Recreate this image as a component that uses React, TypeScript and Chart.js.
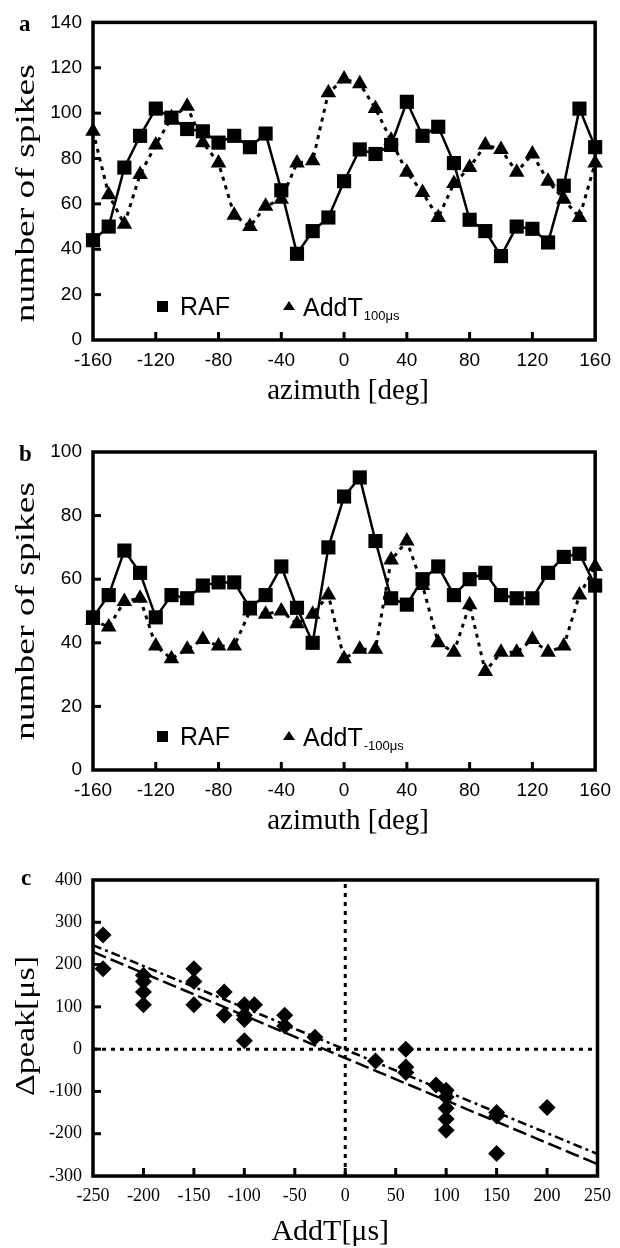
import React, { useEffect, useRef } from "react";
import { Chart, registerables } from "chart.js";

Chart.register(...registerables);

// ---------- data ----------
const azimuth = [-160, -150, -140, -130, -120, -110, -100, -90, -80, -70, -60, -50, -40, -30, -20, -10, 0, 10, 20, 30, 40, 50, 60, 70, 80, 90, 100, 110, 120, 130, 140, 150, 160];

const rafA = [44, 50, 76, 90, 102, 98, 93, 92, 87, 90, 85, 91, 66, 38, 48, 54, 70, 84, 82, 86, 105, 90, 94, 78, 53, 48, 37, 50, 49, 43, 68, 102, 85];
const addA = [92, 64, 51, 73, 86, 98, 103, 87, 78, 55, 50, 59, 62, 78, 79, 109, 115, 113, 102, 88, 74, 65, 54, 69, 76, 86, 84, 74, 82, 70, 62, 54, 78];

const rafB = [48, 55, 69, 62, 48, 55, 54, 58, 59, 59, 51, 55, 64, 51, 40, 70, 86, 92, 72, 54, 52, 60, 64, 55, 60, 62, 55, 54, 54, 62, 67, 68, 58];
const addB = [47, 45, 53, 54, 39, 35, 38, 41, 39, 39, 50, 49, 50, 46, 49, 55, 35, 38, 38, 66, 72, 58, 40, 37, 52, 31, 37, 37, 41, 37, 39, 55, 64];

const addT = [-240, -240, -200, -200, -200, -200, -150, -150, -150, -120, -120, -100, -100, -100, -100, -90, -60, -60, -30, 30, 60, 60, 60, 90, 100, 100, 100, 100, 100, 150, 150, 150, 200];
const dPeak = [270, 190, 175, 160, 135, 105, 190, 160, 105, 135, 80, 105, 80, 70, 20, 105, 80, 55, 28, -28, 0, -42, -55, -85, -97, -113, -140, -165, -192, -150, -158, -247, -138];

const fitX = [-250, 250];
const fitDashDot = [246, -248];
const fitDashed = [230, -272];

const zeroLineX = [-250, 250];
const zeroLineY = [-300, 400];

const azTicks = [-160, -120, -80, -40, 0, 40, 80, 120, 160];
const spikeTicksA = [0, 20, 40, 60, 80, 100, 120, 140];
const spikeTicksB = [0, 20, 40, 60, 80, 100];
const addTTicks = [-250, -200, -150, -100, -50, 0, 50, 100, 150, 200, 250];
const peakTicks = [-300, -200, -100, 0, 100, 200, 300, 400];

const legendRaf = "RAF";
const legendAdd = "AddT";
const subA = "100μs";
const subB = "-100μs";

// ---------- helpers ----------
const SANS = "'Liberation Sans', Arial, sans-serif";
const SERIF = "'Liberation Serif', 'Times New Roman', serif";

const pts = (xs: number[], ys: number[]) => xs.map((x, i) => ({ x, y: ys[i] }));

const fixedTicks = (arr: number[]) => (scale: any) => {
  scale.ticks = arr.map((v) => ({ value: v }));
};

function drawVertical(ctx: CanvasRenderingContext2D, text: string, cx: number, cy: number, size: number, targetLen: number) {
  ctx.save();
  ctx.font = `${size}px ${SERIF}`;
  const w = ctx.measureText(text).width;
  ctx.translate(cx, cy);
  ctx.rotate(-Math.PI / 2);
  ctx.scale(targetLen / w, 1);
  ctx.textAlign = "center";
  ctx.textBaseline = "middle";
  ctx.fillStyle = "#000";
  ctx.fillText(text, 0, 0);
  ctx.restore();
}

function frameAndTicks(chart: any, tickLen: number) {
  const { ctx, chartArea } = chart;
  const { left, right, top, bottom } = chartArea;
  const x = chart.scales.x;
  const y = chart.scales.y;
  ctx.save();
  ctx.strokeStyle = "#000";
  ctx.lineWidth = 3.5;
  ctx.strokeRect(left, top, right - left, bottom - top);
  ctx.lineWidth = 3;
  for (const t of y.ticks) {
    if (t.value === y.min || t.value === y.max) continue;
    const py = y.getPixelForValue(t.value);
    ctx.beginPath();
    ctx.moveTo(left, py);
    ctx.lineTo(left + tickLen, py);
    ctx.stroke();
  }
  for (const t of x.ticks) {
    if (t.value === x.min || t.value === x.max) continue;
    const px = x.getPixelForValue(t.value);
    ctx.beginPath();
    ctx.moveTo(px, bottom);
    ctx.lineTo(px, bottom - tickLen);
    ctx.stroke();
  }
  ctx.restore();
}

function spikesPanel(letter: string, sub: string, yTitleLen: number, yTitleDy: number) {
  return {
    id: "spikesDecor",
    beforeDatasetsDraw(chart: any) {
      frameAndTicks(chart, 8);
    },
    afterDraw(chart: any) {
      const { ctx, chartArea } = chart;
      const { left, right, top, bottom } = chartArea;
      ctx.save();
      ctx.fillStyle = "#000";
      // panel letter
      ctx.font = `bold 23px ${SERIF}`;
      ctx.textAlign = "left";
      ctx.textBaseline = "alphabetic";
      ctx.fillText(letter, left - 74, top + 9);
      // x title
      ctx.font = `29px ${SERIF}`;
      ctx.textAlign = "center";
      ctx.fillText("azimuth [deg]", (left + right) / 2 + 4, bottom + 59);
      // legend
      const ly = bottom - 33;
      ctx.fillRect(left + 64, ly - 6, 11, 11);
      ctx.font = `25px ${SANS}`;
      ctx.textAlign = "left";
      ctx.fillText(legendRaf, left + 87, bottom - 25);
      ctx.beginPath();
      ctx.moveTo(left + 196, ly - 6);
      ctx.lineTo(left + 202, ly + 3);
      ctx.lineTo(left + 190, ly + 3);
      ctx.closePath();
      ctx.fill();
      ctx.fillText(legendAdd, left + 210, bottom - 24);
      const w = ctx.measureText(legendAdd).width;
      ctx.font = `13px ${SANS}`;
      ctx.fillText(sub, left + 210 + w + 1, bottom - 20);
      ctx.restore();
      drawVertical(ctx, "number of spikes", 27, (top + bottom) / 2 + yTitleDy, 27, yTitleLen);
    },
  };
}

const peakPlugin = {
  id: "peakDecor",
  beforeDatasetsDraw(chart: any) {
    frameAndTicks(chart, 8);
  },
  afterDraw(chart: any) {
    const { ctx, chartArea } = chart;
    const { left, right, top, bottom } = chartArea;
    ctx.save();
    ctx.fillStyle = "#000";
    ctx.font = `bold 23px ${SERIF}`;
    ctx.textAlign = "left";
    ctx.fillText("c", left - 72, top + 5);
    ctx.font = `30px ${SERIF}`;
    ctx.textAlign = "center";
    ctx.fillText("AddT[μs]", (left + right) / 2 - 15, bottom + 64);
    ctx.restore();
    drawVertical(ctx, "Δpeak[μs]", 27, (top + bottom) / 2 - 2, 27, 140);
  },
};

function baseOptions(
  pad: { top: number; right: number },
  yWidth: number,
  xHeight: number,
  xr: [number, number],
  yr: [number, number],
  xt: number[],
  yt: number[],
  font: any
) {
  return {
    responsive: false,
    maintainAspectRatio: false,
    animation: false as const,
    devicePixelRatio: 1,
    layout: { padding: { top: pad.top, right: pad.right, left: 0, bottom: 0 } },
    plugins: { legend: { display: false }, tooltip: { enabled: false } },
    scales: {
      x: {
        type: "linear" as const,
        min: xr[0],
        max: xr[1],
        afterBuildTicks: fixedTicks(xt),
        afterFit: (s: any) => {
          s.height = xHeight;
        },
        grid: { display: false, drawTicks: false },
        border: { display: false },
        ticks: { color: "#000", font, padding: 9, maxRotation: 0, autoSkip: false },
      },
      y: {
        type: "linear" as const,
        min: yr[0],
        max: yr[1],
        afterBuildTicks: fixedTicks(yt),
        afterFit: (s: any) => {
          s.width = yWidth;
        },
        grid: { display: false, drawTicks: false },
        border: { display: false },
        ticks: { color: "#000", font, padding: 11, autoSkip: false },
      },
    },
  };
}

function spikesConfig(raf: number[], add: number[], yMax: number, yt: number[], padTop: number, letter: string, sub: string, dy: number): any {
  return {
    type: "line",
    data: {
      datasets: [
        {
          data: pts(azimuth, raf),
          borderColor: "#000",
          backgroundColor: "#000",
          borderWidth: 2.5,
          pointStyle: "rect",
          pointRadius: 10,
          pointBorderWidth: 0,
          tension: 0,
          clip: false,
        },
        {
          data: pts(azimuth, add),
          borderColor: "#000",
          backgroundColor: "#000",
          borderWidth: 3,
          borderDash: [4, 5],
          pointStyle: "triangle",
          pointRadius: 9,
          pointBorderWidth: 0,
          tension: 0,
          clip: false,
        },
      ],
    },
    options: baseOptions({ top: padTop, right: 18 }, 93, 80, [-160, 160], [0, yMax], azTicks, yt, { family: SANS, size: 19 }),
    plugins: [spikesPanel(letter, sub, 258, dy)],
  };
}

function peakConfig(): any {
  return {
    type: "line",
    data: {
      datasets: [
        {
          data: pts(addT, dPeak),
          showLine: false,
          borderColor: "#000",
          backgroundColor: "#000",
          pointStyle: "rectRot",
          pointRadius: 8.5,
          pointBorderWidth: 0,
          clip: false,
        },
        {
          data: pts(fitX, fitDashDot),
          borderColor: "#000",
          borderWidth: 2.5,
          borderDash: [9, 4, 3, 4],
          pointRadius: 0,
        },
        {
          data: pts(fitX, fitDashed),
          borderColor: "#000",
          borderWidth: 2.5,
          borderDash: [14, 5],
          pointRadius: 0,
        },
        {
          data: pts(zeroLineX, [0, 0]),
          borderColor: "#000",
          borderWidth: 3,
          borderDash: [4, 5],
          pointRadius: 0,
        },
        {
          data: pts([0, 0], zeroLineY),
          borderColor: "#000",
          borderWidth: 3,
          borderDash: [4, 5],
          pointRadius: 0,
        },
      ],
    },
    options: baseOptions({ top: 30, right: 19 }, 93, 72, [-250, 250], [-300, 400], addTTicks, peakTicks, { family: SERIF, size: 18 }),
    plugins: [peakPlugin],
  };
}

function Panel({ top, height, config }: { top: number; height: number; config: () => any }) {
  const ref = useRef<HTMLCanvasElement | null>(null);
  useEffect(() => {
    if (!ref.current) return;
    const chart = new Chart(ref.current, config());
    return () => chart.destroy();
  }, []);
  return (
    <canvas
      ref={ref}
      width={620}
      height={height}
      style={{ position: "absolute", left: 0, top, width: 620, height, display: "block" }}
    />
  );
}

export default function App() {
  return (
    <div style={{ position: "absolute", left: 0, top: 0, width: 620, height: 1248, background: "#fff", overflow: "hidden" }}>
      <Panel top={0} height={420} config={() => spikesConfig(rafA, addA, 140, spikeTicksA, 22, "a", subA, 12)} />
      <Panel top={420} height={430} config={() => spikesConfig(rafB, addB, 100, spikeTicksB, 32, "b", subB, 0)} />
      <Panel top={850} height={398} config={peakConfig} />
    </div>
  );
}
